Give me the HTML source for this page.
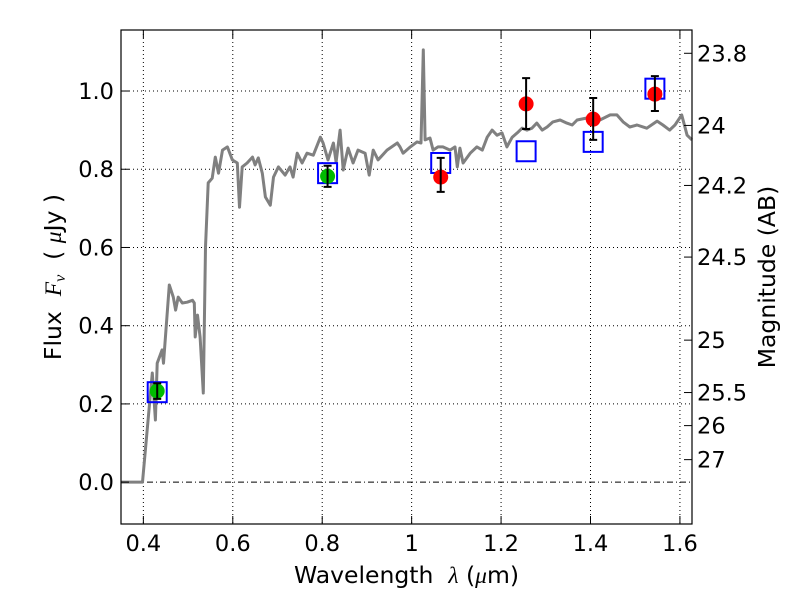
<!DOCTYPE html>
<html><head><meta charset="utf-8">
<style>
body{margin:0;background:#fff;}
svg{display:block;font-family:"DejaVu Sans","Liberation Sans",sans-serif;}
text{white-space:pre;}
</style></head>
<body>
<svg id="chart" width="800" height="600" viewBox="0 0 800 600" xmlns="http://www.w3.org/2000/svg">
<rect width="800" height="600" fill="#fff"/>
<g id="grid"></g>
<g id="spec"></g>
<g id="marks"></g>
<g id="axes"></g>
</svg>
<script>
const xTicks=[0.4,0.6,0.8,1.0,1.2,1.4,1.6];
const xTickLabels=["0.4","0.6","0.8","1","1.2","1.4","1.6"];
const yTicks=[0,0.2,0.4,0.6,0.8,1.0];
const yTickLabels=["0.0","0.2","0.4","0.6","0.8","1.0"];
const magTicks=[23.8,24,24.2,24.5,25,25.5,26,27];
const magTickLabels=["23.8","24","24.2","24.5","25","25.5","26","27"];
const specLam=[0.349,0.398,0.420,0.427,0.431,0.442,0.445,0.458,0.467,0.472,0.478,0.487,0.498,0.510,0.514,0.516,0.521,0.527,0.534,0.539,0.545,0.554,0.561,0.568,0.577,0.588,0.599,0.610,0.615,0.621,0.632,0.644,0.650,0.657,0.666,0.673,0.684,0.691,0.702,0.717,0.728,0.735,0.744,0.755,0.766,0.780,0.796,0.802,0.813,0.825,0.831,0.840,0.847,0.858,0.869,0.880,0.896,0.905,0.914,0.925,0.945,0.968,0.974,0.981,0.997,1.012,1.021,1.026,1.030,1.041,1.048,1.059,1.070,1.086,1.097,1.102,1.108,1.115,1.131,1.146,1.158,1.169,1.180,1.191,1.202,1.213,1.225,1.236,1.247,1.258,1.269,1.280,1.292,1.303,1.316,1.332,1.347,1.359,1.370,1.392,1.406,1.421,1.444,1.459,1.473,1.488,1.504,1.526,1.549,1.562,1.577,1.589,1.604,1.616,1.627];
const specFlux=[0,0,0.279,0.159,0.304,0.338,0.304,0.504,0.473,0.440,0.473,0.458,0.460,0.465,0.458,0.371,0.427,0.371,0.228,0.601,0.765,0.777,0.831,0.790,0.849,0.857,0.824,0.816,0.703,0.806,0.816,0.831,0.811,0.829,0.790,0.729,0.708,0.780,0.806,0.785,0.806,0.780,0.841,0.816,0.841,0.836,0.882,0.867,0.824,0.867,0.818,0.900,0.798,0.854,0.816,0.849,0.841,0.785,0.849,0.824,0.849,0.867,0.857,0.841,0.857,0.870,0.867,1.105,0.875,0.880,0.849,0.857,0.857,0.849,0.857,0.806,0.854,0.816,0.841,0.857,0.849,0.882,0.900,0.887,0.893,0.857,0.882,0.893,0.905,0.900,0.905,0.918,0.900,0.908,0.921,0.926,0.918,0.913,0.926,0.931,0.918,0.926,0.939,0.939,0.921,0.908,0.913,0.905,0.923,0.913,0.900,0.913,0.939,0.887,0.875];
const obsLam=[0.431,0.812,1.065,1.256,1.406,1.544];
const obsFlux=[0.233,0.782,0.780,0.967,0.928,0.992];
const obsLo=[0.213,0.755,0.742,0.903,0.875,0.949];
const obsHi=[0.253,0.809,0.829,1.033,0.982,1.038];
const obsColor=["#00bb00","#00bb00","#ff0000","#ff0000","#ff0000","#ff0000"];
const modelFlux=[0.230,0.790,0.816,0.846,0.870,1.006];

const L=121,R=692,T=30,B=524;
const xmin=0.35,xmax=1.627,ymin=-0.107,ymax=1.156;
const X=v=>L+(v-xmin)/(xmax-xmin)*(R-L);
const Y=v=>B-(v-ymin)/(ymax-ymin)*(B-T);
const magY=m=>Y(Math.pow(10,-0.4*(m-23.9)));
const NS="http://www.w3.org/2000/svg";
function mk(tag,attrs,parent,text){const e=document.createElementNS(NS,tag);for(const k in attrs)e.setAttribute(k,attrs[k]);if(text!==undefined)e.textContent=text;document.getElementById(parent).appendChild(e);return e;}
const FS=22.5;
xTicks.forEach((t,i)=>{
  const g=mk('line',{x1:X(t),x2:X(t),y1:T,y2:B,stroke:'#000','stroke-width':1,'stroke-dasharray':'1,3'},'grid');
  
  
  mk('line',{x1:X(t),x2:X(t),y1:B,y2:B-8,stroke:'#000'},'axes');
  mk('line',{x1:X(t),x2:X(t),y1:T,y2:T+8,stroke:'#000'},'axes');
  const lb=mk('text',{x:X(t),y:551,'text-anchor':'middle','font-size':FS},'axes',xTickLabels[i]);
  
  
});
yTicks.forEach((t,i)=>{
  const g=mk('line',{x1:L,x2:R,y1:Y(t),y2:Y(t),stroke:'#000','stroke-width':1,'stroke-dasharray':t===0?'6,3,1,3':'1,3'},'grid');
  
  
  mk('line',{x1:L,x2:L+8,y1:Y(t),y2:Y(t),stroke:'#000'},'axes');
  const lb=mk('text',{x:L-7,y:Y(t)+8,'text-anchor':'end','font-size':FS},'axes',yTickLabels[i]);
  
  
});
magTicks.forEach((m,i)=>{
  mk('line',{x1:R,x2:R-8,y1:magY(m),y2:magY(m),stroke:'#000'},'axes');
  const lb=mk('text',{x:R+5,y:magY(m)+8,'font-size':FS},'axes',magTickLabels[i]);
  
  
});

const pts=specLam.map((l,i)=>X(l).toFixed(1)+','+Y(specFlux[i]).toFixed(1)).join(' ');
const sp=mk('polyline',{points:pts,fill:'none',stroke:'#808080','stroke-width':3,'stroke-linejoin':'round'},'spec');



obsLam.forEach((l,i)=>{
  const sq=mk('rect',{x:X(l)-9.5,y:Y(modelFlux[i])-10,width:19,height:20,fill:'none',stroke:'#0000ff','stroke-width':2},'marks');
  
  
  const c=mk('circle',{cx:X(l),cy:Y(obsFlux[i]),r:7.5,fill:obsColor[i]},'marks');
  
  
  const e=mk('path',{d:`M${X(l)},${Y(obsLo[i])}V${Y(obsHi[i])}M${X(l)-4},${Y(obsLo[i])}h8M${X(l)-4},${Y(obsHi[i])}h8`,stroke:'#000','stroke-width':2,fill:'none'},'marks');
  
  
});

const fr=mk('rect',{x:L,y:T,width:R-L,height:B-T,fill:'none',stroke:'#000','stroke-width':1.2},'axes');


const xl=mk('text',{x:(L+R)/2,y:583,'text-anchor':'middle','font-size':23.5},'axes');
xl.innerHTML='Wavelength  <tspan font-family="Liberation Serif,serif" font-style="italic">λ</tspan> (<tspan font-family="Liberation Serif,serif" font-style="italic">μ</tspan>m)';


const yl=mk('text',{x:0,y:0,'text-anchor':'middle','font-size':23.5,transform:`translate(61,${(T+B)/2}) rotate(-90)`},'axes');
yl.innerHTML='Flux  <tspan font-family="Liberation Serif,serif" font-style="italic">F<tspan font-size="16" dy="4">ν</tspan></tspan><tspan dy="-4">  ( </tspan><tspan font-family="Liberation Serif,serif" font-style="italic">μ</tspan>Jy )';


const rl=mk('text',{x:0,y:0,'text-anchor':'middle','font-size':23.5,transform:`translate(775,${(T+B)/2}) rotate(-90)`},'axes','Magnitude (AB)');


</script>
</body></html>
